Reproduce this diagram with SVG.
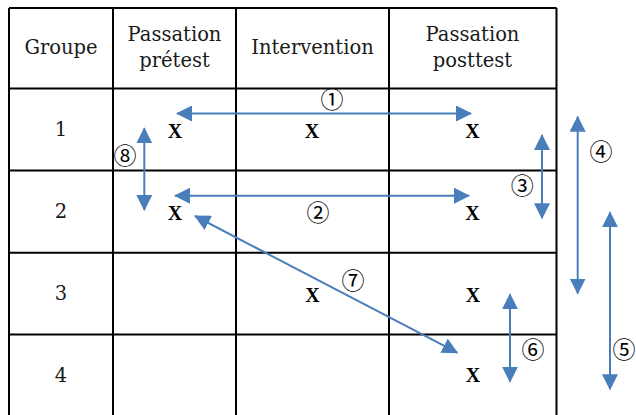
<svg xmlns="http://www.w3.org/2000/svg" width="636" height="415" viewBox="0 0 636 415">
<style>
.grid{stroke:#000;stroke-width:2;fill:none}
.t{font-family:"DejaVu Serif","Liberation Serif",serif;font-size:19.5px;fill:#1a1a1a;text-anchor:middle}
.x{font-family:"Liberation Serif",serif;font-weight:bold;font-size:20px;fill:#000;text-anchor:middle}
.c{font-family:"Noto Sans CJK JP","DejaVu Sans",sans-serif;font-size:23px;fill:#000;text-anchor:middle}
.a{stroke:#4a7ebb;stroke-width:2;fill:none;marker-start:url(#h);marker-end:url(#h)}
</style>
<defs>
<marker id="h" viewBox="0 0 16 16" refX="15" refY="8" markerWidth="16" markerHeight="16" markerUnits="userSpaceOnUse" orient="auto-start-reverse">
<path d="M0,0 L16,8 L0,16 Z" fill="#4a7ebb"/>
</marker>
</defs>
<rect width="636" height="415" fill="#fff"/>
<g id="table">
<path class="grid" d="M9,8 H556.5 M9,88.5 H556.5 M9,170.5 H556.5 M9,252.7 H556.5 M9,334.5 H556.5 M9,8 V416 M113,8 V416 M236,8 V416 M389,8 V416 M556.5,8 V416"/>
</g>
<g id="header">
<text class="t" x="61" y="54">Groupe</text>
<text class="t" x="174.5" y="41">Passation</text>
<text class="t" x="174.5" y="67">prétest</text>
<text class="t" x="312.5" y="54">Intervention</text>
<text class="t" x="472.5" y="41">Passation</text>
<text class="t" x="472.5" y="67">posttest</text>
</g>
<g id="rows">
<text class="t" x="61" y="136">1</text>
<text class="t" x="61" y="218">2</text>
<text class="t" x="61" y="300">3</text>
<text class="t" x="61" y="382">4</text>
</g>
<g id="marks">
<text class="x" x="175" y="138">X</text>
<text class="x" x="312" y="138">X</text>
<text class="x" x="472.5" y="138">X</text>
<text class="x" x="175" y="219.5">X</text>
<text class="x" x="472.5" y="219.5">X</text>
<text class="x" x="312.5" y="302">X</text>
<text class="x" x="473" y="302">X</text>
<text class="x" x="473" y="382">X</text>
</g>
<g id="connectors">
<line class="a" x1="177" y1="113.5" x2="471" y2="113.5"/>
<line class="a" x1="175" y1="195.7" x2="469" y2="195.7"/>
<line class="a" x1="144.3" y1="128.3" x2="144.3" y2="210"/>
<line class="a" x1="542" y1="135" x2="542" y2="218.3"/>
<line class="a" x1="577.7" y1="116.7" x2="577.7" y2="293.5"/>
<line class="a" x1="610" y1="212.3" x2="610" y2="389.3"/>
<line class="a" x1="510" y1="294.3" x2="510" y2="381.7"/>
<line class="a" x1="195" y1="216" x2="457.3" y2="352.7"/>
</g>
<g id="labels">
<text class="c" x="332" y="108">①</text>
<text class="c" x="318" y="221">②</text>
<text class="c" x="522.3" y="194">③</text>
<text class="c" x="601" y="160">④</text>
<text class="c" x="624" y="358">⑤</text>
<text class="c" x="533" y="358">⑥</text>
<text class="c" x="353" y="289">⑦</text>
<text class="c" x="125" y="164">⑧</text>
</g>
</svg>
